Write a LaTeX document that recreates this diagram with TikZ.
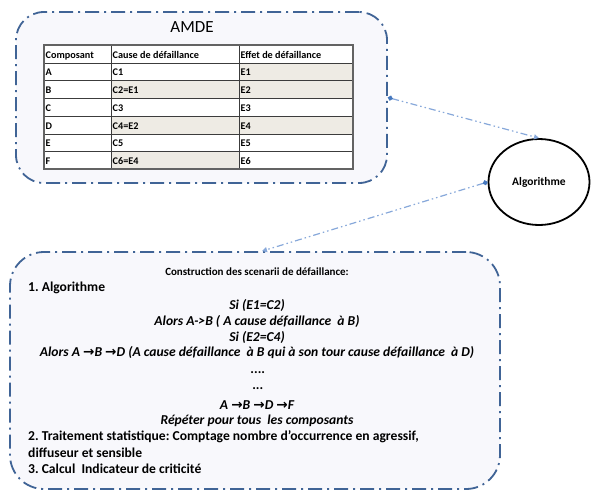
\documentclass[tikz,border=0pt]{standalone}
\usepackage{fontspec}
\setmainfont{Carlito}
\newfontfamily\arrowfont{DejaVu Sans}
\usetikzlibrary{arrows.meta,shapes.geometric}
\definecolor{boxline}{RGB}{64,100,150}
\definecolor{boxfill}{RGB}{248,248,252}
\definecolor{linkline}{RGB}{135,168,218}
\definecolor{linkdot}{RGB}{70,120,190}
\definecolor{cellshade}{RGB}{238,235,228}
\definecolor{gridline}{RGB}{60,60,60}
\newcommand{\myarr}{{\arrowfont\bfseries\upshape →}}
\frenchspacing
\begin{document}
\begin{tikzpicture}[x=1pt,y=-1pt,
  panel/.style={draw=boxline, fill=boxfill, line width=1.8pt,
    dash pattern=on 14pt off 5pt on 2pt off 5pt, inner sep=0pt},
  link/.style={draw=linkline, line width=1.2pt,
    dash pattern=on 7pt off 3pt on 1.5pt off 3pt on 1.5pt off 3pt,
    {Circle[length=5pt,color=linkdot]}-{Triangle[length=5pt,width=5pt]}},
  cell/.style={anchor=base west, font=\fontsize{10.2}{12}\selectfont\bfseries, inner sep=0pt},
  ctext/.style={anchor=center, inner sep=0pt, font=\fontsize{13.6}{15}\selectfont\bfseries\itshape},
  ltext/.style={anchor=west, inner sep=0pt, font=\fontsize{13.6}{15}\selectfont\bfseries},
]
\useasboundingbox (0,0) rectangle (592,491);

% top panel
\node[panel, rounded corners=28pt, minimum width=371pt, minimum height=171pt] (amde) at (201.5,97.5) {};
\node[font=\fontsize{17}{20}\selectfont, inner sep=0pt] (title) at (192,27) {AMDE};

% table shading
\fill[white] (44,45) rectangle (353,169);
\fill[cellshade] (239,63) rectangle (353,80);
\fill[cellshade] (111,80) rectangle (353,98);
\fill[cellshade] (111,116) rectangle (353,134);
\fill[cellshade] (111,151) rectangle (239,169);

% table text
\foreach \b/\a/\c/\e [count=\i] in {
  63/Composant/Cause de défaillance/Effet de défaillance,
  80/A/C1/E1,
  98/B/C2=E1/E2,
  116/C/C3/E3,
  134/D/C4=E2/E4,
  151/E/C5/E5,
  169/F/C6=E4/E6}{
  \node[cell] (a\i) at (45.5,\b-4.5) {\a};
  \node[cell] (c\i) at (112.5,\b-4.5) {\c};
  \node[cell] (e\i) at (240.5,\b-4.5) {\e};
}

% table grid
\foreach \y in {63,80,98,116,134,151}{
  \draw[gridline, line width=0.9pt] (44,\y) -- (353,\y);
}
\draw[gridline, line width=0.9pt] (111,45) -- (111,169) (239,45) -- (239,169);
\draw[gridline!80, line width=1.4pt] (44,45) rectangle (353,169);

% ellipse
\node[draw=black, line width=1.8pt, ellipse, minimum width=101pt, minimum height=86pt, inner sep=0pt,
      font=\fontsize{11.5}{13}\selectfont\bfseries] (alg) at (539,182) {Algorithme};

% bottom panel
\node[panel, rounded corners=34pt, minimum width=490pt, minimum height=237pt] (bot) at (255,370.5) {};

\node[inner sep=0pt, font=\fontsize{11}{13}\selectfont\bfseries] (l0) at (257,272) {Construction des scenarii de défaillance:};
\node[ltext] (l1) at (28,288) {1. Algorithme};
\node[ctext] (l2) at (257,305) {Si (E1=C2)};
\node[ctext] (l3) at (257,321) {Alors A->B ( A cause défaillance \ à B)};
\node[ctext] (l4) at (257,337) {Si (E2=C4)};
\node[ctext] (l5) at (257,353) {Alors A \myarr B \myarr D (A cause défaillance \ à B qui à son tour cause défaillance \ à D)};
\node[ctext] (l6) at (258,373) {....};
\node[ctext] (l7) at (258,389) {...};
\node[ctext] (l8) at (257,405) {A \myarr B \myarr D \myarr F};
\node[ctext] (l9) at (257,421) {Répéter pour tous \ les composants};
\node[ltext] (l10) at (28,437) {2. Traitement statistique: Comptage nombre d’occurrence en agressif,};
\node[ltext] (l11) at (28,453) {diffuseur et sensible};
\node[ltext] (l12) at (28,469) {3. Calcul \ Indicateur de criticité};

% connectors
\draw[link] (amde.east) -- (alg.north);
\draw[link] (alg.west) -- ([xshift=7pt]bot.north);
\end{tikzpicture}
\end{document}
